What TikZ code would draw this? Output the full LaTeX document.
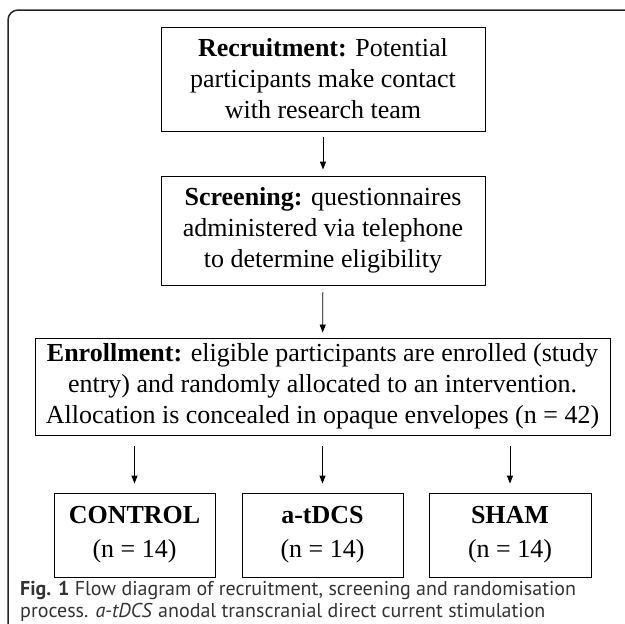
\documentclass[tikz,border=0pt]{standalone}
\usepackage{fontspec}
\setmainfont{Liberation Serif}
\newfontfamily\capfont{PT Sans}
\usetikzlibrary{arrows.meta}

\begin{document}
\begin{tikzpicture}[x=1pt,y=-1pt,inner sep=0pt,
  box/.style={draw,line width=0.9pt,align=center,font=\fontsize{26}{31}\selectfont},
  arr/.style={-{Triangle[length=8pt,width=6pt]},line width=0.9pt}]
\useasboundingbox (0,0) rectangle (625,624);
\clip (0,0) rectangle (625,624);
\draw[line width=1.5pt,rounded corners=10pt,black!85] (8,10) rectangle (680,640);

\node[box,minimum width=324pt,minimum height=104pt] (rec) at (323,79)
  {\textbf{Recruitment:} Potential\\participants make contact\\with research team};
\node[box,minimum width=324pt,minimum height=109pt] (scr) at (323,230.5)
  {\textbf{Screening:} questionnaires\\administered via telephone\\to determine eligibility};
\node[box,minimum width=575pt,minimum height=97pt] (enr) at (322.5,386.5)
  {\textbf{Enrollment:} eligible participants are enrolled (study\\entry) and randomly allocated to an intervention.\\Allocation is concealed in opaque envelopes (n = 42)};
\node[box,minimum width=161pt,minimum height=84pt,font=\fontsize{26}{34}\selectfont] (ctl) at (134.5,535) {\textbf{CONTROL}\\(n = 14)};
\node[box,minimum width=161pt,minimum height=84pt,font=\fontsize{26}{34}\selectfont] (tdcs) at (322.5,535) {\textbf{a-tDCS}\\(n = 14)};
\node[box,minimum width=162pt,minimum height=84pt,font=\fontsize{26}{34}\selectfont] (sham) at (510,535) {\textbf{SHAM}\\(n = 14)};

\draw[arr,shorten <=6pt,shorten >=6pt] (rec) -- (scr);
\draw[arr,shorten <=7pt,shorten >=5pt] (scr) -- (enr);
\draw[arr,shorten <=11pt,shorten >=9pt] (enr.south -| ctl) -- (ctl);
\draw[arr,shorten <=11pt,shorten >=9pt] (enr.south -| tdcs) -- (tdcs);
\draw[arr,shorten <=11pt,shorten >=9pt] (enr.south -| sham) -- (sham);

\node[anchor=north west,align=left,text=black!80,font=\capfont\fontsize{20}{22}\selectfont] (cap) at (20,581)
  {\textbf{Fig. 1} Flow diagram of recruitment, screening and randomisation\\process. \textit{a-tDCS} anodal transcranial direct current stimulation};
\end{tikzpicture}
\end{document}
